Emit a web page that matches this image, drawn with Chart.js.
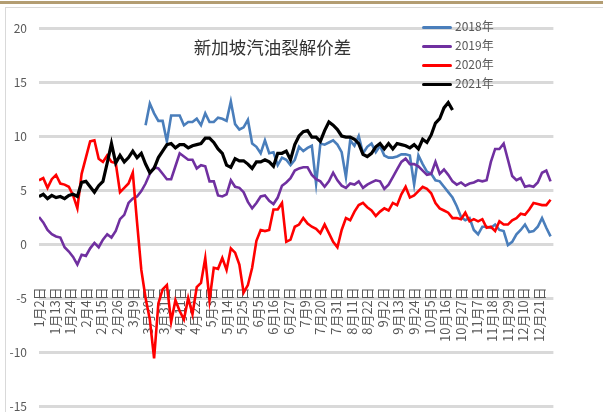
<!DOCTYPE html>
<html>
<head>
<meta charset="utf-8">
<script src="https://cdn.jsdelivr.net/npm/chart.js@4/dist/chart.umd.min.js"></script>
<style>
  body { margin: 0; background: #fff; }
  #wrap { position: relative; width: 603px; height: 412px; overflow: hidden; background: #fff; }
  #topline { position: absolute; left: 0; top: 1px; width: 603px; height: 3px; background: #b39d72; }
  #frame { position: absolute; left: 5px; top: 7px; width: 640px; height: 440px; border: 1px solid #d9d9d9; }
  #c { position: absolute; left: 0; top: 0; }
  #title { position: absolute; left: 0; top: 34px; width: 545px; text-align: center;
           font: 17.5px "Noto Sans CJK SC", sans-serif; color: #333; }
  #legend { position: absolute; left: 422px; top: 16px; font: 12px "Noto Sans CJK SC", sans-serif; color: #595959; }
  #legend div { height: 19px; line-height: 19px; white-space: nowrap; }
  #legend span.sw { display: inline-block; width: 30px; height: 3px; vertical-align: middle; margin-right: 3px; border-radius: 2px; }
</style>
</head>
<body>
<div id="wrap">
  <div id="topline"></div>
  <div id="frame"></div>
  <canvas id="c" width="603" height="412"></canvas>
  <div id="title">新加坡汽油裂解价差</div>
  <div id="legend"></div>
</div>
<script>
// x = days since 1月2日, sampled every 3 days
const days = [0,3,6,9,12,15,18,21,24,27,30,33,36,39,42,45,48,51,54,57,
  60,63,66,69,72,75,78,81,84,87,90,93,96,99,102,105,108,111,114,117,
  120,123,126,129,132,135,138,141,144,147,150,153,156,159,162,165,168,171,174,177,
  180,183,186,189,192,195,198,201,204,207,210,213,216,219,222,225,228,231,234,237,
  240,243,246,249,252,255,258,261,264,267,270,273,276,279,282,285,288,291,294,297,
  300,303,306,309,312,315,318,321,324,327,330,333,336,339,342,345,348,351,354,357,360];

const tickLabels = ['1月2日','1月13日','1月24日','2月4日','2月15日','2月26日','3月9日','3月20日',
  '3月31日','4月11日','4月22日','5月3日','5月14日','5月25日','6月5日','6月16日','6月27日',
  '7月9日','7月20日','7月31日','8月11日','8月22日','9月2日','9月13日','9月24日','10月5日',
  '10月16日','10月27日','11月7日','11月18日','11月29日','12月10日','12月21日'];

const y2018 = [null,null,null,null,null,null,null,null,null,null,
  null,null,null,null,null,null,null,null,null,null,
  null,null,null,null,null,
  11.0,13.0,12.1,11.4,11.4,
  9.5,11.9,11.9,11.9,11.0,11.3,11.3,11.6,11.0,12.1,
  11.3,11.3,11.7,11.6,11.4,13.2,11.1,10.6,10.8,11.5,
  9.3,9.0,8.4,9.6,8.4,8.5,7.3,8.0,7.8,7.3,
  7.8,9.0,8.6,8.9,9.1,5.6,9.3,9.2,9.4,9.6,
  9.2,8.5,6.2,9.6,9.1,10.0,8.4,9.0,9.3,8.5,
  9.1,8.2,8.0,8.0,8.1,8.3,8.3,8.2,5.5,8.2,
  7.4,6.7,6.5,5.9,5.8,5.3,4.8,4.3,3.5,2.5,
  2.2,2.4,1.3,0.9,1.6,1.6,1.5,1.8,1.3,1.2,
  -0.1,0.2,0.9,1.3,1.8,1.1,1.2,1.6,2.4,1.5,
  0.7];

const y2019 = [2.5,2.0,1.3,0.9,0.7,0.6,-0.3,-0.7,-1.2,-1.9,
  -1.0,-1.1,-0.4,0.1,-0.3,0.4,0.9,0.6,1.2,2.3,
  2.7,3.8,4.2,4.4,4.9,5.6,6.5,7.1,7.0,6.5,
  6.0,6.0,7.2,8.4,8.1,7.8,7.8,7.0,7.3,7.2,
  5.8,5.8,4.5,4.4,4.6,5.9,5.3,5.2,4.8,3.9,
  3.3,3.8,4.4,4.5,4.0,3.7,4.3,5.4,5.7,6.1,
  6.8,7.0,7.1,7.1,6.4,6.0,5.8,5.3,5.8,6.6,
  5.9,5.4,5.2,5.6,5.5,5.8,5.2,5.5,5.7,5.9,
  5.8,5.1,5.5,6.2,6.9,7.6,7.9,7.4,7.4,7.2,
  6.8,6.4,6.5,7.6,6.5,6.9,6.4,5.8,5.5,5.7,
  5.4,5.6,5.7,5.9,5.8,5.9,7.6,8.8,8.8,9.3,
  7.8,6.3,5.9,6.1,5.3,5.4,5.3,5.7,6.6,6.8,
  5.8];

const y2020 = [5.9,6.1,5.2,6.0,6.4,5.6,5.5,5.3,4.5,3.3,
  6.5,8.0,9.5,9.6,7.9,7.6,8.2,7.6,7.5,4.8,
  5.2,5.6,6.6,2.0,-2.4,-5.0,-7.0,-10.6,-5.5,-4.2,
  -3.8,-7.2,-5.2,-6.2,-7.0,-5.0,-6.5,-4.0,-3.6,-1.3,
  -5.2,-2.2,-2.3,-1.3,-2.4,-0.4,-0.8,-1.9,-4.5,-3.8,
  -2.2,0.3,1.3,1.2,1.3,3.2,3.2,3.8,0.2,0.4,
  1.6,1.8,2.4,1.9,1.6,1.4,1.0,1.8,1.0,0.2,
  -0.3,1.3,2.4,2.2,3.0,3.6,3.8,3.4,3.1,2.6,
  3.0,3.3,3.1,3.8,3.6,4.6,5.3,4.3,4.5,4.9,
  5.3,5.1,4.7,3.8,3.3,3.1,2.9,2.4,2.4,2.3,
  2.9,2.1,2.3,2.1,2.3,1.5,1.6,1.2,2.1,1.8,
  1.8,2.2,2.4,2.8,2.7,3.2,3.8,3.7,3.6,3.6,
  4.1];

const y2021 = [4.4,4.6,4.2,4.5,4.3,4.4,4.2,4.5,4.6,4.4,
  5.7,5.8,5.3,4.8,5.4,5.8,7.5,9.3,7.5,8.2,
  7.6,8.0,8.6,8.0,8.4,7.4,6.6,7.0,8.0,8.6,
  9.2,9.3,8.9,9.2,9.2,8.9,9.1,9.2,9.3,9.8,
  9.8,9.4,8.8,8.4,7.3,7.1,7.9,7.7,7.7,7.4,
  7.0,7.6,7.6,7.8,7.6,7.2,8.4,8.4,8.6,7.8,
  9.2,10.0,10.4,10.5,9.9,9.9,9.5,10.5,11.3,11.0,
  10.6,10.0,9.9,9.9,9.7,9.3,8.3,8.1,8.4,9.0,
  9.3,8.8,9.3,8.8,9.3,9.2,9.1,8.9,9.2,8.8,
  9.7,9.4,10.1,11.2,11.6,12.6,13.1,12.4];

const seriesNames = ['2018年', '2019年', '2020年', '2021年'];
const seriesColors = ['#4a7ebb', '#7030a0', '#ff0000', '#000000'];
const seriesValues = [y2018, y2019, y2020, y2021];

const font = { family: '"Noto Sans CJK SC", sans-serif', size: 12 };

const datasets = seriesValues.map((vals, k) => ({
  label: seriesNames[k],
  data: days.map((d, i) => ({ x: d, y: i < vals.length ? vals[i] : null })),
  borderColor: seriesColors[k],
  backgroundColor: seriesColors[k],
  borderWidth: k === 3 ? 3.2 : 2.6,
  pointRadius: 0,
  tension: 0,
  spanGaps: false,
  order: 4 - k
}));

new Chart(document.getElementById('c'), {
  type: 'line',
  data: { datasets },
  options: {
    responsive: false,
    animation: false,
    layout: { padding: { top: 28, right: 5, bottom: 6, left: 0 } },
    plugins: { legend: { display: false }, title: { display: false }, tooltip: { enabled: false } },
    scales: {
      x: {
        type: 'linear',
        min: 0,
        max: 362,
        // labels hang just under the zero line, inside the plot
        position: { y: -0.85 },
        grid: { display: false, drawTicks: false },
        border: { display: false },
        ticks: {
          stepSize: 11,
          autoSkip: false,
          minRotation: 90,
          maxRotation: 90,
          padding: 34,
          color: '#595959',
          font: { family: font.family, size: 13 },
          callback: v => tickLabels[v / 11] || ''
        }
      },
      y: {
        min: -15,
        max: 20,
        grid: { color: '#d9d9d9', lineWidth: 3, drawTicks: false },
        border: { display: false },
        ticks: { stepSize: 5, padding: 12, color: '#595959', font },
        afterFit: s => {
          s.width = 39;
          // keep the label padding from eating into the plot height
          s.paddingTop = 0;
          s.paddingBottom = 0;
        }
      }
    }
  }
});

// legend inside the plot, top right
const legend = document.getElementById('legend');
seriesNames.forEach((name, k) => {
  const row = document.createElement('div');
  const sw = document.createElement('span');
  sw.className = 'sw';
  sw.style.background = seriesColors[k];
  row.appendChild(sw);
  row.appendChild(document.createTextNode(name));
  legend.appendChild(row);
});
</script>
</body>
</html>
